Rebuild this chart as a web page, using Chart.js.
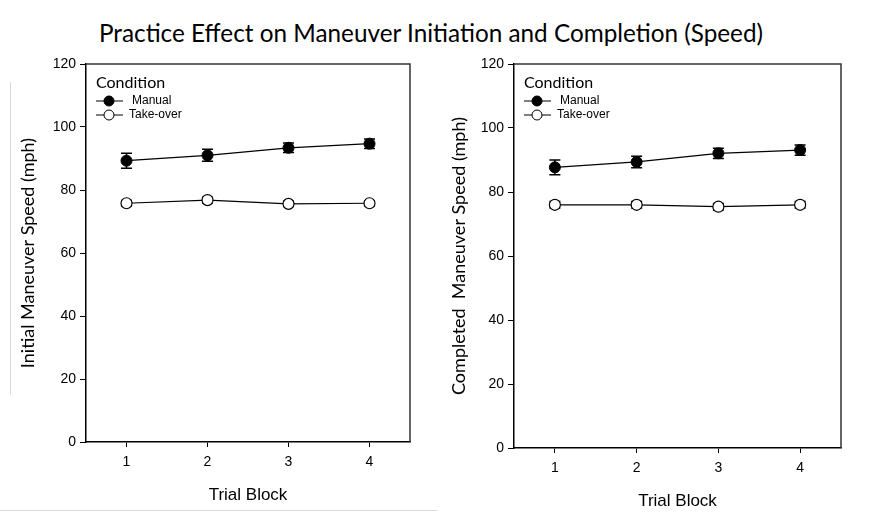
<!DOCTYPE html>
<html>
<head>
<meta charset="utf-8">
<script src="https://cdn.jsdelivr.net/npm/chart.js@4.4.0/dist/chart.umd.min.js"></script>
<style>
  body { margin: 0; background: #fff; width: 881px; height: 512px; position: relative; overflow: hidden; }
  #title { position: absolute; top: 18px; left: 0; width: 862px; text-align: center;
           font-family: Lato, "Noto Sans", sans-serif; font-size: 24.3px; color: #000; }
  #leftChart { position: absolute; left: 0; top: 0; }
  #rightChart { position: absolute; left: 440px; top: 0; }
  .edge { position: absolute; background: #d9d9d9; }
</style>
</head>
<body>
<div id="title">Practice Effect on Maneuver Initiation and Completion (Speed)</div>
<div class="edge" style="left:10px;top:82px;width:1px;height:313px"></div>
<div class="edge" style="left:0;top:510px;width:437px;height:1px"></div>
<canvas id="leftChart" width="440" height="512"></canvas>
<canvas id="rightChart" width="441" height="512"></canvas>
<script>
// trial blocks and y ticks
var blocks = [1, 2, 3, 4];
var yTicks = [0, 20, 40, 60, 80, 100, 120];

// initial maneuver speed
var initManual = [89.3, 91.0, 93.4, 94.7];
var initManualErr = [2.4, 1.9, 1.5, 1.5];
var initTakeover = [75.8, 76.8, 75.6, 75.8];
var initTakeoverErr = [0.9, 0.9, 0.8, 0.8];

// completed maneuver speed
var compManual = [87.7, 89.4, 92.1, 93.1];
var compManualErr = [2.3, 1.8, 1.6, 1.6];
var compTakeover = [76.0, 76.0, 75.4, 76.0];
var compTakeoverErr = [1.0, 1.0, 1.0, 1.0];

var tickFont = { family: '"Liberation Sans", Arial, sans-serif', size: 14 };

// error bars drawn under the markers
var errorBarPlugin = {
    id: 'errorBars',
    beforeDatasetsDraw: function (chart) {
        var ctx = chart.ctx
        var xs = chart.scales.x, ys = chart.scales.y
        ctx.save()
        ctx.strokeStyle = '#000'
        ctx.lineWidth = 1.5
        chart.data.datasets.forEach(function (ds) {
            ds.data.forEach(function (p, i) {
                var e = ds.errors[i]
                var x = xs.getPixelForValue(p.x)
                var y1 = ys.getPixelForValue(p.y + e)
                var y2 = ys.getPixelForValue(p.y - e)
                ctx.beginPath()
                ctx.moveTo(x, y1); ctx.lineTo(x, y2)
                ctx.moveTo(x - 5.5, y1); ctx.lineTo(x + 5.5, y1)
                ctx.moveTo(x - 5.5, y2); ctx.lineTo(x + 5.5, y2)
                ctx.stroke()
            })
        })
        ctx.restore()
    }
}

// frame around the plot + legend box
var framePlugin = {
    id: 'frame',
    afterDraw: function (chart) {
        var ctx = chart.ctx
        var a = chart.chartArea
        ctx.save()
        ctx.strokeStyle = '#333'
        ctx.lineWidth = 1.5
        ctx.beginPath()
        ctx.moveTo(a.left, a.top); ctx.lineTo(a.right, a.top); ctx.lineTo(a.right, a.bottom)
        ctx.stroke()

        // legend
        var lx = a.left + 10
        ctx.fillStyle = '#000'
        ctx.font = '16px Lato, "Noto Sans", sans-serif'
        ctx.textBaseline = 'middle'
        ctx.fillText('Condition', lx, a.top + 19)
        ctx.font = '12px "Liberation Sans", Arial, sans-serif'
        chart.data.datasets.forEach(function (ds, i) {
            var y = a.top + 37 + i * 14
            ctx.strokeStyle = '#000'
            ctx.lineWidth = 1
            ctx.beginPath()
            ctx.moveTo(lx, y); ctx.lineTo(lx + 27, y)
            ctx.stroke()
            ctx.beginPath()
            ctx.arc(lx + 13, y, 5, 0, Math.PI * 2)
            ctx.fillStyle = ds.pointBackgroundColor
            ctx.fill()
            ctx.stroke()
            ctx.fillStyle = '#000'
            ctx.fillText(ds.label, lx + (i === 0 ? 36 : 33), y)
        })
        ctx.restore()
    }
}

function series(vals) {
    return blocks.map(function (b, i) { return { x: b, y: vals[i] } })
}

function makeChart(id, yTitle, manual, manualErr, takeover, takeoverErr, box) {
    return new Chart(document.getElementById(id), {
        type: 'line',
        data: {
            datasets: [
                {
                    label: 'Manual',
                    data: series(manual),
                    errors: manualErr,
                    borderColor: '#000',
                    borderWidth: 1.2,
                    pointBackgroundColor: '#000',
                    pointBorderColor: '#000',
                    pointRadius: 5.5,
                    pointBorderWidth: 1
                },
                {
                    label: 'Take-over',
                    data: series(takeover),
                    errors: takeoverErr,
                    borderColor: '#000',
                    borderWidth: 1.2,
                    pointBackgroundColor: '#fff',
                    pointBorderColor: '#000',
                    pointRadius: 5.5,
                    pointBorderWidth: 1.2
                }
            ]
        },
        options: {
            responsive: false,
            animation: false,
            devicePixelRatio: 1,
            layout: { padding: { top: 64, right: box.padRight, left: 0, bottom: 0 } },
            plugins: { legend: { display: false }, tooltip: { enabled: false } },
            scales: {
                x: {
                    type: 'linear',
                    min: 0.5,
                    max: 4.5,
                    afterBuildTicks: function (scale) {
                        scale.ticks = blocks.map(function (v) { return { value: v } })
                    },
                    afterFit: function (scale) { scale.height = box.xHeight },
                    grid: { drawOnChartArea: false, tickLength: 5, color: '#000', tickWidth: 1 },
                    border: { color: '#000', width: 1.5 },
                    ticks: { font: tickFont, color: '#000', padding: 7 },
                    title: {
                        display: true,
                        text: 'Trial Block',
                        font: { family: '"Liberation Sans", Arial, sans-serif', size: 17 },
                        color: '#000',
                        padding: { top: 0, bottom: box.xTitlePad }
                    }
                },
                y: {
                    min: 0,
                    max: 120,
                    afterBuildTicks: function (scale) {
                        scale.ticks = yTicks.map(function (v) { return { value: v } })
                    },
                    afterFit: function (scale) { scale.width = box.yWidth },
                    grid: { drawOnChartArea: false, tickLength: 6, color: '#000', tickWidth: 1 },
                    border: { color: '#000', width: 1.5 },
                    ticks: { font: tickFont, color: '#000', padding: 4 },
                    title: {
                        display: true,
                        text: yTitle,
                        font: { family: 'Lato, "Noto Sans", sans-serif', size: 18 },
                        color: '#000',
                        padding: { top: box.yTitlePad, bottom: 0 }
                    }
                }
            }
        },
        plugins: [errorBarPlugin, framePlugin]
    })
}

makeChart('leftChart', 'Initial Maneuver Speed (mph)',
    initManual, initManualErr, initTakeover, initTakeoverErr,
    { yWidth: 86, xHeight: 70, padRight: 30, xTitlePad: 6, yTitlePad: 17 })
makeChart('rightChart', 'Completed  Maneuver Speed (mph)',
    compManual, compManualErr, compTakeover, compTakeoverErr,
    { yWidth: 74, xHeight: 64, padRight: 40, xTitlePad: 0, yTitlePad: 8 })
</script>
</body>
</html>
